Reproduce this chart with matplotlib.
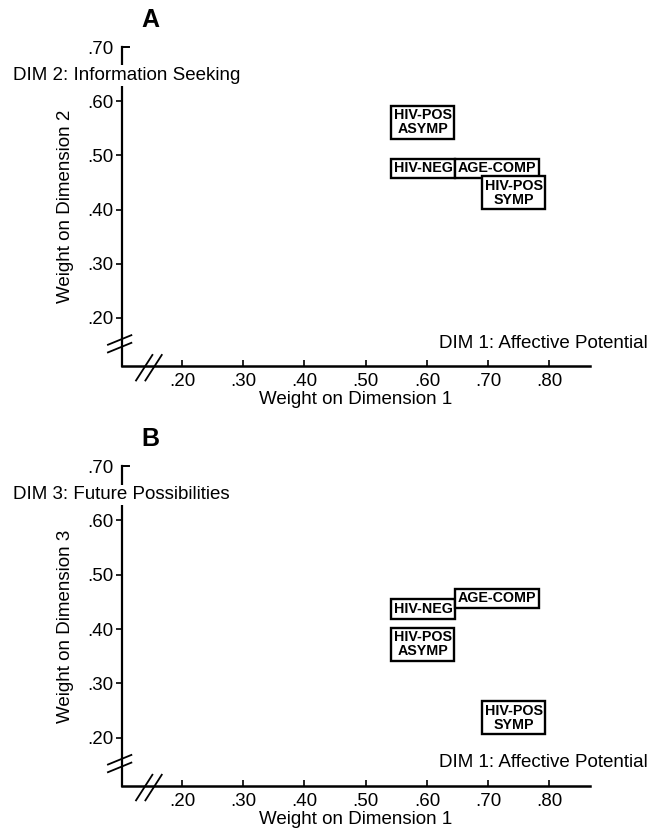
import matplotlib
matplotlib.use("Agg")
import matplotlib.pyplot as plt
from matplotlib.ticker import FuncFormatter

plt.rcParams['font.family'] = ['Liberation Sans', 'DejaVu Sans']

groups = ["HIV-POS\nASYMP", "HIV-NEG", "AGE-COMP", "HIV-POS\nSYMP"]
dim1 = [0.593, 0.594, 0.714, 0.742]
dim2 = [0.561, 0.476, 0.476, 0.431]
dim3 = [0.372, 0.437, 0.457, 0.237]

xticks = [0.20, 0.30, 0.40, 0.50, 0.60, 0.70, 0.80]
yticks = [0.20, 0.30, 0.40, 0.50, 0.60, 0.70]

fig = plt.figure(figsize=(6.58, 8.34), dpi=100)


def fmt(v, pos):
    return ("%.2f" % v)[1:]


def panel(rect, yvals, letter, ydim, ylabel):
    ax = fig.add_axes(rect)
    ax.set_xlim(0.102, 0.866)
    ax.set_ylim(0.111, 0.70)
    ax.spines['top'].set_visible(False)
    ax.spines['right'].set_visible(False)
    ax.spines['left'].set_linewidth(1.6)
    ax.spines['bottom'].set_linewidth(1.8)
    ax.set_xticks(xticks)
    ax.set_yticks(yticks)
    ax.xaxis.set_major_formatter(FuncFormatter(fmt))
    ax.yaxis.set_major_formatter(FuncFormatter(fmt))
    ax.tick_params(axis='x', direction='in', length=4, width=1.2, labelsize=13.5, pad=5)
    ax.tick_params(axis='y', direction='out', length=4, width=1.2, labelsize=13.5, pad=2)
    # top tick of the y axis points inward instead
    ax.yaxis.get_major_ticks()[-1].tick1line.set_visible(False)
    ax.plot([0, 0.015], [1, 1], transform=ax.transAxes, color='black',
            lw=1.4, clip_on=False)
    ax.set_xlabel("Weight on Dimension 1", fontsize=13.5, labelpad=1)
    ax.set_ylabel(ylabel, fontsize=13.5, labelpad=10)

    for lab, x, y in zip(groups, dim1, yvals):
        ax.text(x, y, lab, ha='center', va='center', fontsize=10.3,
                fontweight='bold', linespacing=1.0,
                bbox=dict(boxstyle='square,pad=0.18', fc='white', ec='black', lw=1.7))

    # axis break marks
    for dy in (-0.012, 0.012):
        ax.plot([-0.03, 0.02], [0.055 + dy, 0.085 + dy], transform=ax.transAxes,
                color='black', lw=1.3, clip_on=False)
    for dx in (-0.01, 0.01):
        ax.plot([0.04 + dx, 0.075 + dx], [-0.045, 0.035], transform=ax.transAxes,
                color='black', lw=1.3, clip_on=False)

    ax.text(0.06, 1.085, letter, transform=ax.transAxes, fontsize=18,
            fontweight='bold', ha='center', va='center')
    ax.text(-0.233, 0.91, ydim, transform=ax.transAxes, fontsize=13.5,
            ha='left', va='center', zorder=5,
            bbox=dict(boxstyle='square,pad=0.1', fc='white', ec='none'))
    ax.text(1.124, 0.072, "DIM 1: Affective Potential", transform=ax.transAxes,
            fontsize=13.5, ha='right', va='center')
    return ax


panel([0.1854, 0.561, 0.711, 0.3825], dim2, "A",
      "DIM 2: Information Seeking", "Weight on Dimension 2")
panel([0.1854, 0.0576, 0.711, 0.3835], dim3, "B",
      "DIM 3: Future Possibilities", "Weight on Dimension 3")

fig.savefig("out.png", dpi=100)
